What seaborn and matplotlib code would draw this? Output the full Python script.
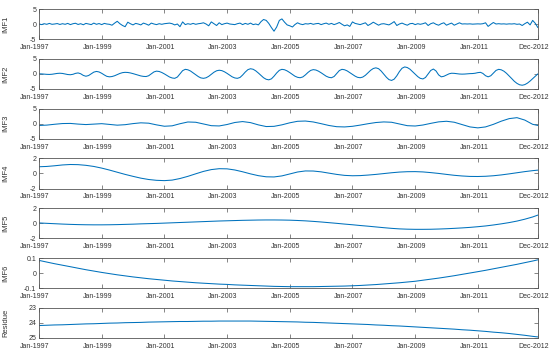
import numpy as np
import pandas as pd
import matplotlib
matplotlib.use("Agg")
import matplotlib.pyplot as plt
import matplotlib.transforms as mtransforms
import seaborn as sns

# ── Data ─────────────────────────────────────────────────────────────────────
months = pd.date_range("1997-01-01", "2012-12-01", freq="MS")          # 192 monthly points
quarters = list(pd.date_range("1997-01-01", periods=64, freq="3MS")) + [pd.Timestamp("2012-12-01")]

imf1 = [
    0.0, -0.2, 0.1, -0.1, 0.2, -0.1, 0.0, 0.15, -0.15, 0.1, -0.1, 0.2,
    -0.2, 0.1, 0.25, -0.15, 0.1, -0.25, 0.2, 0.0, -0.2, 0.3, -0.1, 0.15,
    -0.2, 0.2, 0.0, -0.1, -0.4, 0.3, 0.9, 0.1, -0.5, -0.9, 0.6, 0.1,
    -0.3, 0.2, 0.0, -0.3, 0.3, 0.0, -0.4, 0.3, 0.0, -0.2, 0.1, -0.1,
    0.1, 0.2, 0.3, 0.1, -0.3, 0.0, -0.9, 0.7, -0.2, 0.1, -0.1, 0.2,
    -0.1, 0.1, 0.2, 0.4, 0.0, -0.6, 0.7, 0.1, -0.5, 0.4, -0.2, 0.1,
    0.3, 0.0, -0.1, -0.2, 0.1, 0.3, -0.2, 0.2, -0.1, 0.3, -0.2, 0.0,
    -0.3, 0.8, 1.5, 1.2, 0.2, -1.2, -2.4, -1.0, 1.2, 1.7, 0.6, -0.3,
    -0.6, -1.0, -0.2, 0.4, 0.0, -0.2, 0.1, 0.0, 0.2, -0.1, 0.1, 0.2,
    -0.2, 0.1, 0.3, -0.1, 0.2, -0.2, 0.1, 0.5, -0.1, -0.6, -0.3, -0.8,
    0.7, 0.2, 0.0, -0.2, 0.1, 0.4, -0.5, 0.0, 0.6, 0.1, -0.4, 0.0,
    0.1, -0.1, -0.3, 0.2, 0.8, -0.5, 0.0, 0.3, -0.1, -0.4, 0.1, 0.2,
    -0.2, 0.1, -0.1, 0.1, 0.4, -0.5, 0.1, 0.4, -0.1, -0.4, 0.1, 0.4,
    -0.4, 0.0, 0.3, -0.4, 0.0, 0.4, 0.0, 0.05, 0.0, 0.05, -0.05, 0.0,
    0.05, 0.0, 0.1, 0.4, -0.8, -0.1, 0.5, 0.0, 0.1, 0.0, 0.05, -0.05,
    0.05, 0.0, 0.1, -0.1, 0.0, -0.5, 0.1, 0.6, -0.3, 1.2, 0.2, -1.2,
]

imf2 = [
    0.0, -0.03, -0.1, -0.17, -0.2, -0.14, 0.0, 0.14, 0.2, 0.13, -0.05, -0.23,
    -0.3, -0.15, 0.15, 0.3, 0.03, -0.53, -0.8, -0.57, 0.0, 0.57, 0.8, 0.63,
    0.18, -0.38, -0.83, -1.0, -0.9, -0.63, -0.25, 0.13, 0.4, 0.5, 0.45, 0.3,
    0.07, -0.2, -0.47, -0.7, -0.85, -0.9, -0.64, 0.0, 0.64, 0.9, 0.78, 0.45,
    -0.03, -0.57, -1.05, -1.38, -1.5, -1.06, 0.0, 1.06, 1.5, 1.35, 0.94, 0.33,
    -0.33, -0.94, -1.35, -1.5, -1.32, -0.83, -0.15, 0.53, 1.02, 1.2, 1.07, 0.69,
    0.15, -0.45, -0.99, -1.37, -1.5, -1.2, -0.4, 0.6, 1.4, 1.7, 1.52, 1.0,
    0.26, -0.56, -1.3, -1.82, -2.0, -1.67, -0.79, 0.29, 1.17, 1.5, 1.36, 0.97,
    0.41, -0.21, -0.77, -1.16, -1.3, -1.04, -0.37, 0.47, 1.14, 1.4, 1.27, 0.89,
    0.35, -0.25, -0.79, -1.17, -1.3, -0.89, 0.1, 1.09, 1.5, 1.36, 0.97, 0.41,
    -0.21, -0.77, -1.16, -1.3, -1.08, -0.48, 0.35, 1.18, 1.78, 2.0, 1.72, 0.95,
    -0.1, -1.15, -1.92, -2.2, -1.77, -0.65, 0.75, 1.87, 2.3, 2.1, 1.55, 0.74,
    -0.14, -0.95, -1.5, -1.7, -1.22, -0.05, 1.12, 1.6, 0.95, -0.35, -1.0, -0.82,
    -0.4, 0.02, 0.2, 0.16, 0.05, -0.06, -0.1, -0.07, 0.0, 0.07, 0.1, 0.2,
    0.4, 0.5, 0.13, -0.63, -1.0, -0.64, 0.25, 1.14, 1.5, 1.34, 0.88, 0.18,
    -0.69, -1.61, -2.48, -3.18, -3.64, -3.8, -3.6, -3.1, -2.4, -1.6, -0.8, 0.0,
]

# quarterly samples (+ Dec-2012) for the smooth components
imf3 = [
    -0.6, -0.48, -0.2, 0.04, 0.08, -0.14, -0.3, -0.15, 0.0, -0.25,
    -0.5, -0.34, 0.02, 0.28, 0.16, -0.4, -0.86, -0.72, -0.02, 0.56,
    0.47, -0.1, -0.67, -0.76, -0.28, 0.39, 0.7, 0.35, -0.41, -0.96,
    -0.89, -0.39, 0.29, 0.79, 0.88, 0.57, 0.0, -0.6, -1.01, -1.09,
    -0.88, -0.48, -0.02, 0.38, 0.58, 0.47, -0.1, -0.67, -0.78, -0.45,
    0.1, 0.6, 0.8, 0.48, -0.3, -1.08, -1.4, -1.08, -0.23, 0.83,
    1.68, 2.0, 1.2, -0.22, -0.6,
]
imf4 = [
    0.9, 0.94, 1.03, 1.14, 1.2, 1.18, 1.09, 0.94, 0.72, 0.46,
    0.17, -0.12, -0.38, -0.62, -0.8, -0.91, -0.95, -0.88, -0.67, -0.38,
    -0.04, 0.28, 0.52, 0.64, 0.62, 0.47, 0.23, -0.05, -0.29, -0.44,
    -0.46, -0.32, -0.06, 0.2, 0.34, 0.33, 0.22, 0.05, -0.12, -0.25,
    -0.3, -0.28, -0.21, -0.12, -0.01, 0.1, 0.19, 0.24, 0.25, 0.21,
    0.12, 0.01, -0.12, -0.24, -0.33, -0.39, -0.4, -0.37, -0.3, -0.19,
    -0.05, 0.1, 0.25, 0.38, 0.45,
]
imf5 = [
    0.05, 0.0, -0.05, -0.1, -0.14, -0.17, -0.19, -0.2, -0.2, -0.19,
    -0.17, -0.14, -0.11, -0.07, -0.04, -0.01, 0.03, 0.07, 0.11, 0.15,
    0.19, 0.23, 0.27, 0.31, 0.34, 0.37, 0.4, 0.42, 0.44, 0.45,
    0.45, 0.44, 0.42, 0.38, 0.33, 0.26, 0.18, 0.09, 0.0, -0.1,
    -0.19, -0.29, -0.38, -0.48, -0.58, -0.67, -0.74, -0.78, -0.8, -0.8,
    -0.79, -0.76, -0.72, -0.67, -0.61, -0.54, -0.45, -0.35, -0.22, -0.07,
    0.1, 0.3, 0.55, 0.85, 1.1,
]
imf6 = [
    0.085, 0.074, 0.063, 0.053, 0.043, 0.033, 0.023, 0.014, 0.005, -0.003,
    -0.011, -0.018, -0.025, -0.031, -0.037, -0.042, -0.047, -0.052, -0.056, -0.06,
    -0.064, -0.067, -0.07, -0.073, -0.075, -0.078, -0.08, -0.082, -0.084, -0.086,
    -0.088, -0.089, -0.09, -0.09, -0.09, -0.09, -0.089, -0.088, -0.087, -0.086,
    -0.084, -0.082, -0.079, -0.076, -0.072, -0.068, -0.064, -0.059, -0.054, -0.047,
    -0.04, -0.033, -0.025, -0.017, -0.008, 0.001, 0.01, 0.019, 0.029, 0.039,
    0.049, 0.059, 0.07, 0.081, 0.089,
]
residue = [
    24.17, 24.15, 24.13, 24.12, 24.1, 24.08, 24.06, 24.05, 24.03, 24.01,
    24.0, 23.98, 23.97, 23.96, 23.94, 23.93, 23.92, 23.91, 23.9, 23.9,
    23.89, 23.88, 23.88, 23.87, 23.87, 23.87, 23.87, 23.87, 23.88, 23.89,
    23.9, 23.91, 23.92, 23.93, 23.95, 23.96, 23.98, 24.0, 24.02, 24.04,
    24.06, 24.08, 24.1, 24.13, 24.15, 24.18, 24.2, 24.23, 24.26, 24.29,
    24.32, 24.35, 24.38, 24.41, 24.45, 24.48, 24.52, 24.56, 24.61, 24.65,
    24.7, 24.76, 24.82, 24.89, 24.93,
]

panel_names = ["IMF1", "IMF2", "IMF3", "IMF4", "IMF5", "IMF6", "Residue"]
yticks = [[-5, 0, 5], [-5, 0, 5], [-5, 0, 5], [-2, 0, 2], [-2, 0, 2], [-0.1, 0, 0.1], [23, 24, 25]]
ytick_labels = [["-5", "0", "5"], ["-5", "0", "5"], ["-5", "0", "5"], ["-2", "0", "2"],
                ["-2", "0", "2"], ["-0.1", "0", "0.1"], ["23", "24", "25"]]

xtick_dates = pd.to_datetime(["1997-01-01", "1999-01-01", "2001-01-01", "2003-01-01",
                              "2005-01-01", "2007-01-01", "2009-01-01", "2011-01-01",
                              "2012-12-01"])
xtick_labels = ["Jan-1997", "Jan-1999", "Jan-2001", "Jan-2003", "Jan-2005",
                "Jan-2007", "Jan-2009", "Jan-2011", "Dec-2012"]

# ── Style ────────────────────────────────────────────────────────────────────
sns.set_style("ticks")
plt.rcParams["font.family"] = ["Liberation Sans", "DejaVu Sans"]
plt.rcParams["axes.unicode_minus"] = False

LINE = "#0072BD"
EDGE = "#555555"
TXT = "#333333"

fig, axes = plt.subplots(7, 1, figsize=(5.5, 3.53), dpi=100)
fig.subplots_adjust(left=0.071, right=0.978, top=0.9745, bottom=0.0425, hspace=0.661)

series = [(months, imf1), (months, imf2), (quarters, imf3), (quarters, imf4),
          (quarters, imf5), (quarters, imf6), (quarters, residue)]

shift = mtransforms.ScaledTranslation(-4 / 100, 0, fig.dpi_scale_trans)

for ax, (xs, ys), name, yt, ytl in zip(axes, series, panel_names, yticks, ytick_labels):
    sns.lineplot(x=xs, y=ys, ax=ax, color=LINE, linewidth=0.75)
    ax.set_xlim(months[0], months[-1])
    ax.set_yticks(yt)
    ax.set_yticklabels(ytl)
    ax.set_ylim(yt[0], yt[-1])
    ax.set_xticks(xtick_dates)
    ax.set_xticklabels(xtick_labels)
    ax.tick_params(direction="in", top=True, right=True, length=3, width=0.5,
                   color=EDGE, labelcolor=TXT, labelsize=5)
    ax.tick_params(axis="x", pad=3.5)
    ax.tick_params(axis="y", pad=2)
    for sp in ax.spines.values():
        sp.set_color(EDGE)
        sp.set_linewidth(0.6)
    ax.set_xlabel("")
    ax.set_ylabel(name, fontsize=5.5, color=TXT)
    ax.yaxis.set_label_coords(-0.06, 0.5)
    for lab in ax.get_xticklabels():
        lab.set_transform(lab.get_transform() + shift)

# residue axis runs downward
axes[-1].set_ylim(25, 23)

fig.savefig("out.png", dpi=100)
